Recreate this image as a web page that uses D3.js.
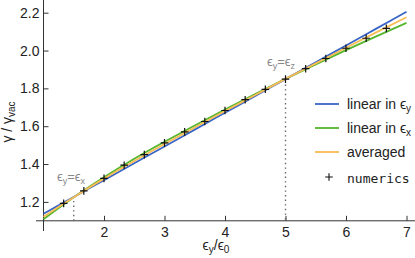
<!DOCTYPE html>
<html><head><meta charset="utf-8">
<script src="https://cdn.jsdelivr.net/npm/d3@7"></script>
<style>
html,body{margin:0;padding:0;background:#fff;}
svg{display:block;font-family:"Liberation Sans",Arial,sans-serif;}
</style></head>
<body><svg id="c" width="415" height="258"></svg>
<script>
// ---- data ----
const xGrid = [1, 1.5, 2, 2.5, 3, 3.5, 4, 4.5, 5, 5.5, 6, 6.5, 7];
const linearY = [1.137, 1.226, 1.315, 1.404, 1.493, 1.582, 1.671, 1.760, 1.849, 1.938, 2.027, 2.116, 2.205];
const linearX = [1.108, 1.224, 1.330, 1.428, 1.518, 1.604, 1.688, 1.770, 1.850, 1.927, 2.002, 2.075, 2.146];
const averaged = [1.122, 1.225, 1.323, 1.416, 1.506, 1.593, 1.680, 1.765, 1.850, 1.932, 2.015, 2.096, 2.176];
const numX = [4/3, 5/3, 2, 7/3, 8/3, 3, 10/3, 11/3, 4, 13/3, 14/3, 5, 16/3, 17/3, 6, 19/3, 20/3];
const numY = [1.192, 1.258, 1.324, 1.394, 1.450, 1.512, 1.570, 1.625, 1.683, 1.740, 1.795, 1.849, 1.904, 1.958, 2.012, 2.065, 2.117];
const xTicks = [2, 3, 4, 5, 6, 7];
const yTicks = [1.2, 1.4, 1.6, 1.8, 2.0, 2.2];
const seriesNames = ["linear in ϵ", "linear in ϵ", "averaged", "numerics"];
const seriesSubs = ["y", "x", "", ""];
const colors = ["#3a66c8", "#55b52e", "#f8bd55"];
const markers = [{x: 1.5, label: "ϵ", sub1: "y", mid: "=ϵ", sub2: "x"}, {x: 5, label: "ϵ", sub1: "y", mid: "=ϵ", sub2: "z"}];

// ---- scales ----
const svg = d3.select("#c");
const x = d3.scaleLinear().domain([1, 7]).range([43.5, 406.5]);
const y = d3.scaleLinear().domain([1.1, 2.2]).range([220.8, 12.7]);
const axisColor = "#333";

// axis lines
svg.append("line").attr("x1", 36).attr("x2", 415).attr("y1", y(1.1)).attr("y2", y(1.1))
  .attr("stroke", axisColor).attr("stroke-width", 1);
svg.append("line").attr("x1", x(1)).attr("x2", x(1)).attr("y1", 0).attr("y2", 231)
  .attr("stroke", axisColor).attr("stroke-width", 1);

// minor ticks
const xMinor = d3.range(1, 7.15, 0.2).map(v => +v.toFixed(2)).filter(v => Math.abs(v - Math.round(v)) > 1e-6);
const yMinor = d3.range(1.1, 2.27, 0.05).map(v => +v.toFixed(2)).filter(v => Math.abs(v * 5 - Math.round(v * 5)) > 1e-6);
const gx = svg.append("g").attr("transform", `translate(0,${y(1.1)})`);
gx.call(d3.axisBottom(x).tickValues(xMinor).tickSize(-3).tickFormat(""));
gx.call(d3.axisBottom(x).tickValues(xTicks).tickSize(-5).tickPadding(6).tickFormat(d3.format("d")));
gx.selectAll(".domain").remove();
gx.selectAll("line").attr("stroke", axisColor);
gx.selectAll("text").attr("font-size", 14).attr("fill", "#222").attr("font-family", "Liberation Sans, Arial, sans-serif");

const gy = svg.append("g").attr("transform", `translate(${x(1)},0)`);
gy.call(d3.axisLeft(y).tickValues(yMinor).tickSize(-3).tickFormat(""));
gy.call(d3.axisLeft(y).tickValues(yTicks).tickSize(-5).tickPadding(4).tickFormat(d3.format(".1f")));
gy.selectAll(".domain").remove();
gy.selectAll("line").attr("stroke", axisColor);
gy.selectAll("text").attr("font-size", 14).attr("fill", "#222").attr("font-family", "Liberation Sans, Arial, sans-serif");

// axis titles
const xl = svg.append("text").attr("x", 216).attr("y", 250).attr("text-anchor", "middle")
  .attr("font-size", 14).attr("fill", "#222");
xl.append("tspan").text("ϵ");
xl.append("tspan").text("y").attr("font-size", 10).attr("dy", 3);
xl.append("tspan").text("/ϵ").attr("dy", -3);
xl.append("tspan").text("0").attr("font-size", 10).attr("dy", 3);

const yl = svg.append("text").attr("transform", "translate(12,122) rotate(-90)").attr("text-anchor", "middle")
  .attr("font-size", 14).attr("fill", "#222");
yl.append("tspan").text("γ / γ");
yl.append("tspan").text("vac").attr("font-size", 10).attr("dy", 3);

// dotted markers
const dotTop = [y(1.205), y(1.82)];
markers.forEach((m, i) => {
  svg.append("line").attr("x1", x(m.x)).attr("x2", x(m.x)).attr("y1", dotTop[i]).attr("y2", y(1.1))
    .attr("stroke", "#666").attr("stroke-width", 1.4).attr("stroke-dasharray", "1.4,3.2");
});
const annPos = [[57, 181], [267, 66]];
markers.forEach((m, i) => {
  const t = svg.append("text").attr("x", annPos[i][0]).attr("y", annPos[i][1]).attr("font-size", 13).attr("fill", "#888");
  t.append("tspan").text(m.label);
  t.append("tspan").text(m.sub1).attr("font-size", 9).attr("dy", 3);
  t.append("tspan").text(m.mid).attr("dy", -3);
  t.append("tspan").text(m.sub2).attr("font-size", 9).attr("dy", 3);
});

// curves
const line = d3.line().x(d => x(d[0])).y(d => y(d[1])).curve(d3.curveNatural);
[linearX, linearY, averaged].forEach((arr, i) => {
  const ci = [1, 0, 2][i];
  svg.append("path").datum(xGrid.map((v, j) => [v, arr[j]])).attr("d", line)
    .attr("fill", "none").attr("stroke", colors[ci]).attr("stroke-width", 1.8);
});

// numerics
const cs = 3.8;
numX.forEach((v, i) => {
  const cx = x(v), cy = y(numY[i]);
  svg.append("path").attr("d", `M${cx - cs},${cy}H${cx + cs}M${cx},${cy - cs}V${cy + cs}`)
    .attr("stroke", "#111").attr("stroke-width", 1.2).attr("fill", "none");
});

// legend
const legRows = [104, 128, 152, 178];
seriesNames.forEach((n, i) => {
  const ly = legRows[i];
  if (i < 3) {
    svg.append("line").attr("x1", 315).attr("x2", 339).attr("y1", ly).attr("y2", ly)
      .attr("stroke", colors[i]).attr("stroke-width", 1.8);
  } else {
    svg.append("path").attr("d", `M${329 - cs},${ly - 1}H${329 + cs}M329,${ly - 1 - cs}V${ly - 1 + cs}`)
      .attr("stroke", "#111").attr("stroke-width", 1.1);
  }
  const t = svg.append("text").attr("x", 347).attr("y", ly + 5).attr("font-size", 14).attr("fill", "#222");
  if (i === 3) t.attr("font-family", "DejaVu Sans Mono, monospace").attr("font-size", 13);
  t.append("tspan").text(n);
  if (seriesSubs[i]) t.append("tspan").text(seriesSubs[i]).attr("font-size", 10).attr("dy", 3);
});
</script></body></html>
